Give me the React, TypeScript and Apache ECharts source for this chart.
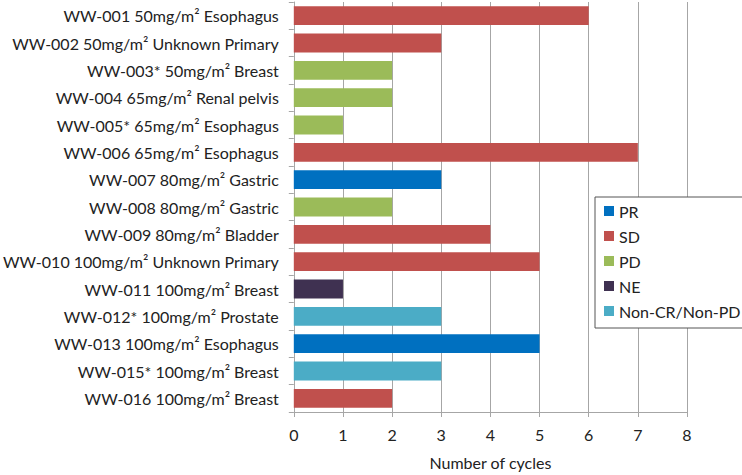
import React, { useEffect, useRef } from "react";
import * as echarts from "echarts";

const categories = [
  "WW-001 50mg/m² Esophagus",
  "WW-002 50mg/m² Unknown Primary",
  "WW-003* 50mg/m² Breast",
  "WW-004 65mg/m² Renal pelvis",
  "WW-005* 65mg/m² Esophagus",
  "WW-006 65mg/m² Esophagus",
  "WW-007 80mg/m² Gastric",
  "WW-008 80mg/m² Gastric",
  "WW-009 80mg/m² Bladder",
  "WW-010 100mg/m² Unknown Primary",
  "WW-011 100mg/m² Breast",
  "WW-012* 100mg/m² Prostate",
  "WW-013 100mg/m² Esophagus",
  "WW-015* 100mg/m² Breast",
  "WW-016 100mg/m² Breast",
];

const cycles = [6, 3, 2, 2, 1, 7, 3, 2, 4, 5, 1, 3, 5, 3, 2];
const responses = ["SD", "SD", "PD", "PD", "PD", "SD", "PR", "PD", "SD", "SD", "NE", "Non-CR/Non-PD", "PR", "Non-CR/Non-PD", "SD"];

const responseTypes = ["PR", "SD", "PD", "NE", "Non-CR/Non-PD"];
const responseColors = ["#0070C0", "#C0504D", "#9BBB59", "#3F3151", "#4BACC6"];

const xTicks = [0, 1, 2, 3, 4, 5, 6, 7, 8];
const xAxisTitle = "Number of cycles";

const FONT = "Lato, 'Open Sans', sans-serif";

export default function App() {
  const ref = useRef<HTMLDivElement>(null);
  useEffect(() => {
    if (!ref.current) return;
    const chart = echarts.init(ref.current, null, { renderer: "svg" });
    const series = responseTypes.map((t, i) => ({
      name: t,
      type: "bar",
      stack: "total",
      barCategoryGap: "31%",
      itemStyle: { color: responseColors[i] },
      data: cycles.map((v, j) => (responses[j] === t ? v : null)),
    }));
    chart.setOption({
      animation: false,
      textStyle: { fontFamily: FONT },
      grid: { left: 291, right: 55, top: 2, bottom: 57, containLabel: false },
      xAxis: {
        type: "value",
        min: xTicks[0],
        max: xTicks[xTicks.length - 1],
        interval: 1,
        name: xAxisTitle,
        nameLocation: "middle",
        nameGap: 42,
        nameTextStyle: { fontSize: 16, color: "#222", fontFamily: FONT },
        axisLine: { show: true, lineStyle: { color: "#a6a6a6" } },
        axisTick: { show: true, length: 5, lineStyle: { color: "#a6a6a6" } },
        axisLabel: { fontSize: 16, color: "#222", margin: 14, fontFamily: FONT },
        splitLine: { show: true, lineStyle: { color: "#a6a6a6" } },
      },
      yAxis: {
        type: "category",
        inverse: true,
        data: categories,
        axisLine: { show: true, lineStyle: { color: "#a6a6a6" } },
        axisTick: { show: true, length: 5, lineStyle: { color: "#a6a6a6" } },
        axisLabel: { fontSize: 16, color: "#222", margin: 15, fontFamily: FONT },
        splitLine: { show: false },
      },
      legend: {
        orient: "vertical",
        left: 595,
        top: 197,
        data: responseTypes,
        icon: "rect",
        itemWidth: 10,
        itemHeight: 10,
        itemGap: 9,
        padding: [6, 8, 9, 9],
        backgroundColor: "#fff",
        borderColor: "#555",
        borderWidth: 1,
        textStyle: { fontSize: 16, color: "#222", fontFamily: FONT },
      },
      series,
    });
    return () => chart.dispose();
  }, []);
  return (
    <div
      ref={ref}
      style={{ position: "fixed", left: 0, top: 0, width: 742, height: 475, background: "#fff" }}
    />
  );
}
